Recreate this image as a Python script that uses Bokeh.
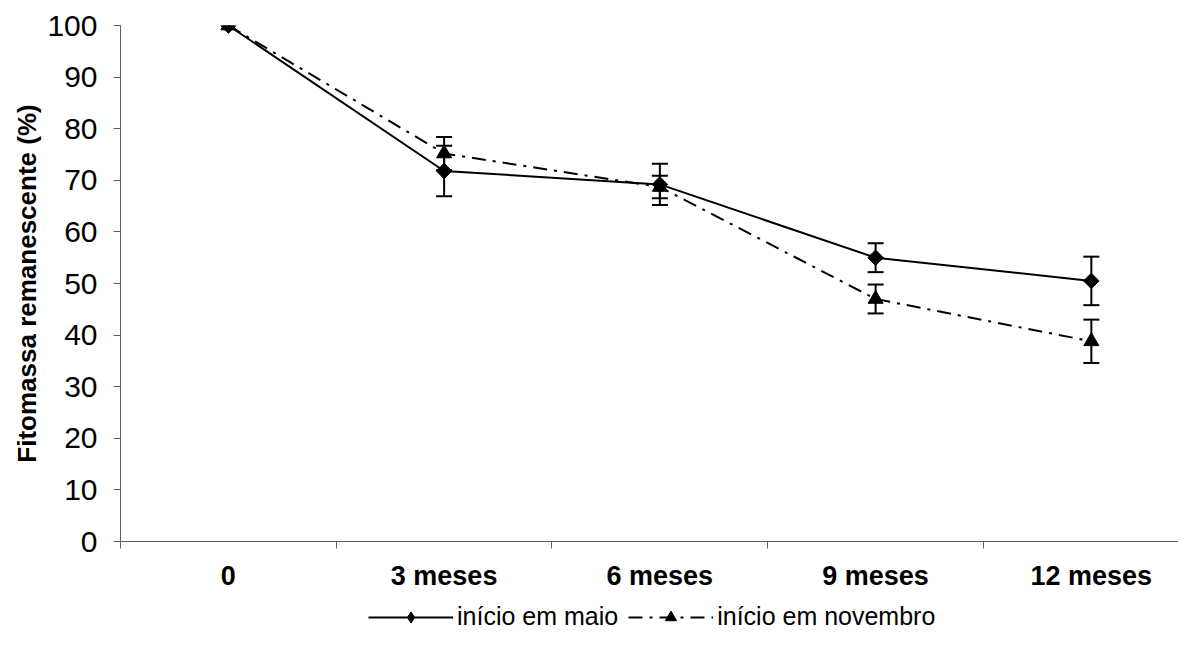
import math
from bokeh.plotting import figure
from bokeh.layouts import column
from bokeh.models import (ColumnDataSource, Whisker, TeeHead, FixedTicker,
                          Legend, LegendItem)
from bokeh.embed import file_html
from bokeh.resources import INLINE

categories = ["0", "3 meses", "6 meses", "9 meses", "12 meses"]
maio = [100, 71.8, 69.2, 55.0, 50.5]
maio_err = [0, 4.9, 4.0, 2.8, 4.7]
novembro = [100, 75.2, 68.7, 47.0, 38.8]
novembro_err = [0, 3.2, 2.2, 2.8, 4.2]
y_ticks = [0, 10, 20, 30, 40, 50, 60, 70, 80, 90, 100]
series_labels = ["início em maio", "início em novembro"]

xs = [i + 0.5 for i in range(len(categories))]

FONT = "Liberation Sans"
INK = "black"
AXIS = "#606060"
DASH = "14 7 3 7"

p = figure(frame_width=1058, frame_height=516, min_border_left=120,
           min_border_right=0, min_border_top=25, min_border_bottom=0,
           x_range=(0, 4.904), y_range=(0, 100),
           output_backend="svg", toolbar_location=None,
           background_fill_color="white", border_fill_color="white")
p.outline_line_color = None
p.xgrid.visible = False
p.ygrid.visible = False

# error bars
def err_source(vals, errs):
    bx, up, lo = [], [], []
    for x, v, e in zip(xs, vals, errs):
        if e > 0:
            bx.append(x)
            up.append(v + e)
            lo.append(v - e)
    return ColumnDataSource(dict(x=bx, upper=up, lower=lo))

for vals, errs in ((maio, maio_err), (novembro, novembro_err)):
    w = Whisker(base="x", upper="upper", lower="lower",
                source=err_source(vals, errs), line_color=INK, line_width=2,
                upper_head=TeeHead(size=16, line_width=2, line_color=INK),
                lower_head=TeeHead(size=16, line_width=2, line_color=INK))
    p.add_layout(w)

src_m = ColumnDataSource(dict(x=xs, y=maio))
src_n = ColumnDataSource(dict(x=xs, y=novembro))


def draw_series(fig, legend_version=False):
    lm = fig.line("x", "y", source=src_m, line_color=INK, line_width=2)
    ln = fig.line("x", "y", source=src_n, line_color=INK, line_width=2,
                  line_dash=DASH)
    if legend_version:
        sm = fig.scatter("x", "y", source=src_m, marker="diamond", size=19,
                         fill_color=INK, line_color=INK)
    else:
        sm = fig.scatter("x", "y", source=src_m, marker="square", size=11,
                         angle=math.pi / 4, fill_color=INK, line_color=INK)
    sn = fig.scatter("x", "y", source=src_n, marker="triangle", size=15,
                     fill_color=INK, line_color=INK)
    return lm, sm, ln, sn


draw_series(p)

# y axis
yax = p.yaxis[0]
yax.ticker = FixedTicker(ticks=y_ticks)
yax.axis_label = "Fitomassa remanescente (%)"
yax.axis_label_text_font = FONT
yax.axis_label_text_font_style = "bold"
yax.axis_label_text_font_size = "26px"
yax.axis_label_text_color = INK
yax.axis_label_standoff = 2
yax.major_label_text_font = FONT
yax.major_label_text_font_size = "30px"
yax.major_label_text_color = INK
yax.major_label_standoff = 16
yax.major_tick_in = 0
yax.major_tick_out = 7
yax.minor_tick_line_color = None
yax.axis_line_color = AXIS
yax.major_tick_line_color = AXIS

# x axis: labels at category centres, tick marks at boundaries
xax = p.xaxis[0]
xax.ticker = FixedTicker(ticks=xs, minor_ticks=list(range(len(categories) + 1)))
xax.major_label_overrides = {x: c for x, c in zip(xs, categories)}
xax.major_label_text_font = FONT
xax.major_label_text_font_style = "bold"
xax.major_label_text_font_size = "27px"
xax.major_label_text_color = INK
xax.major_label_standoff = 12
xax.major_tick_in = 0
xax.major_tick_out = 0
xax.minor_tick_in = 0
xax.minor_tick_out = 7
xax.minor_tick_line_color = AXIS
xax.axis_line_color = AXIS

# legend in its own strip below the chart (series drawn off-frame there,
# only their legend glyphs are visible)
lg = figure(frame_width=1178, frame_height=46, min_border=0,
            x_range=(-20, -19), y_range=(-20, -19),
            output_backend="svg", toolbar_location=None,
            background_fill_color="white", border_fill_color="white")
lg.outline_line_color = None
lg.axis.visible = False
lg.grid.visible = False
l1, s1, l2, s2 = draw_series(lg, legend_version=True)
legend = Legend(items=[
    LegendItem(label=series_labels[0], renderers=[l1, s1]),
    LegendItem(label=series_labels[1], renderers=[l2, s2]),
], orientation="horizontal", location=(368, 8),
    glyph_width=85, glyph_height=28, label_height=28, label_standoff=4,
    spacing=10, label_text_font=FONT, label_text_font_size="25px",
    label_text_color=INK, border_line_color=None, background_fill_alpha=0,
    padding=0, margin=0)
lg.add_layout(legend, "center")

layout = column(p, lg, spacing=0)
open("out.html", "w").write(file_html(layout, INLINE))
